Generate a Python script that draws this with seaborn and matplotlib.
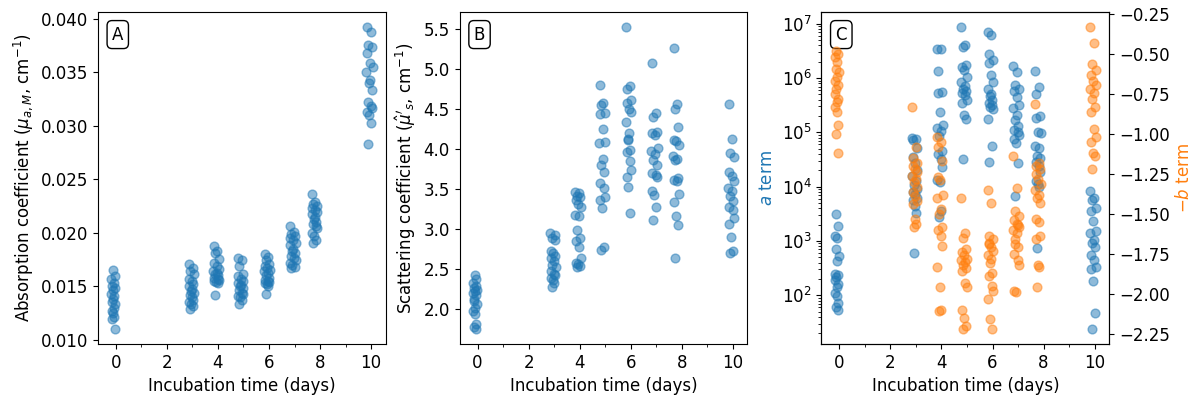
import numpy as np
import pandas as pd
import seaborn as sns
import matplotlib.pyplot as plt
from matplotlib.ticker import MultipleLocator

# Incubation times (days) of each measurement, one sub-list per sampling day
incubation_times = [
    [-0.12, -0.05, -0.18, -0.08, -0.15, -0.03, -0.10, -0.19, -0.06, -0.13, -0.16, -0.04, -0.09, -0.17, -0.11, -0.07, -0.14, -0.05],
    [2.85, 3.02, 2.90, 3.05, 2.88, 2.97, 3.04, 2.86, 3.00, 2.93, 3.06, 2.89, 2.98, 3.03, 2.87, 2.95, 3.01, 2.91],
    [3.83, 3.98, 3.88, 4.03, 3.85, 3.95, 4.05, 3.82, 3.97, 3.90, 4.02, 3.86, 3.99, 4.04, 3.84, 3.93, 4.00, 3.89],
    [4.78, 4.93, 4.83, 4.98, 4.80, 4.90, 5.00, 4.77, 4.92, 4.85, 4.97, 4.81, 4.94, 4.99, 4.79, 4.88, 4.95, 4.84],
    [5.83, 5.96, 5.87, 6.00, 5.85, 5.93, 6.02, 5.82, 5.95, 5.89, 5.99, 5.86, 5.97, 6.01, 5.84, 5.91, 5.98, 5.88],
    [6.82, 6.97, 6.87, 7.03, 6.84, 6.94, 7.05, 6.81, 6.96, 6.89, 7.01, 6.85, 6.98, 7.04, 6.83, 6.92, 7.00, 6.88],
    [7.68, 7.82, 7.72, 7.87, 7.70, 7.79, 7.89, 7.67, 7.81, 7.75, 7.86, 7.71, 7.83, 7.88, 7.69, 7.77, 7.84, 7.73],
    [9.83, 9.98, 9.88, 10.04, 9.85, 9.95, 10.06, 9.82, 9.97, 9.90, 10.02, 9.86, 9.99, 10.05, 9.84, 9.93, 10.01, 9.89],
]

# Absorption coefficient mu_a,M (cm^-1)
mua_values = [
    [0.0165, 0.0159, 0.0157, 0.0153, 0.0150, 0.0148, 0.0146, 0.0143, 0.0141, 0.0138, 0.0135, 0.0133, 0.0130, 0.0127, 0.0125, 0.0121, 0.0119, 0.0110],
    [0.0171, 0.0167, 0.0164, 0.0161, 0.0157, 0.0155, 0.0152, 0.0150, 0.0147, 0.0145, 0.0144, 0.0142, 0.0140, 0.0137, 0.0135, 0.0133, 0.0131, 0.0129],
    [0.0187, 0.0183, 0.0181, 0.0175, 0.0172, 0.0169, 0.0166, 0.0164, 0.0162, 0.0161, 0.0160, 0.0158, 0.0157, 0.0156, 0.0155, 0.0154, 0.0153, 0.0142],
    [0.0176, 0.0174, 0.0169, 0.0161, 0.0159, 0.0157, 0.0155, 0.0153, 0.0151, 0.0150, 0.0148, 0.0146, 0.0144, 0.0143, 0.0141, 0.0140, 0.0137, 0.0133],
    [0.0180, 0.0177, 0.0174, 0.0171, 0.0169, 0.0167, 0.0165, 0.0164, 0.0162, 0.0160, 0.0158, 0.0156, 0.0155, 0.0154, 0.0153, 0.0152, 0.0150, 0.0143],
    [0.0206, 0.0201, 0.0199, 0.0197, 0.0195, 0.0193, 0.0190, 0.0188, 0.0185, 0.0183, 0.0181, 0.0178, 0.0176, 0.0174, 0.0172, 0.0170, 0.0168, 0.0167],
    [0.0236, 0.0229, 0.0227, 0.0225, 0.0223, 0.0221, 0.0219, 0.0217, 0.0215, 0.0213, 0.0210, 0.0208, 0.0206, 0.0204, 0.0200, 0.0197, 0.0193, 0.0190],
    [0.0392, 0.0387, 0.0375, 0.0373, 0.0368, 0.0358, 0.0355, 0.0350, 0.0343, 0.0340, 0.0333, 0.0322, 0.0318, 0.0316, 0.0313, 0.0310, 0.0302, 0.0283],
]

# Reduced scattering coefficient mu_s' (cm^-1)
mus_values = [
    [2.43, 2.37, 2.33, 2.29, 2.26, 2.24, 2.22, 2.20, 2.17, 2.13, 2.10, 2.06, 2.01, 1.97, 1.94, 1.81, 1.77, 1.75],
    [2.95, 2.92, 2.89, 2.86, 2.72, 2.70, 2.66, 2.64, 2.60, 2.55, 2.52, 2.47, 2.44, 2.42, 2.39, 2.36, 2.33, 2.28],
    [3.47, 3.45, 3.42, 3.40, 3.36, 3.32, 3.28, 3.18, 3.17, 2.99, 2.89, 2.85, 2.78, 2.64, 2.57, 2.56, 2.54, 2.53],
    [4.81, 4.58, 4.55, 4.46, 4.44, 4.25, 4.09, 4.08, 3.88, 3.80, 3.72, 3.58, 3.52, 3.40, 3.36, 3.27, 2.78, 2.74],
    [5.53, 4.79, 4.75, 4.62, 4.58, 4.50, 4.47, 4.34, 4.20, 4.13, 3.99, 3.96, 3.85, 3.74, 3.65, 3.53, 3.20, 4.11],
    [5.08, 4.46, 4.40, 4.22, 4.20, 4.18, 4.02, 3.98, 3.94, 3.86, 3.80, 3.70, 3.68, 3.65, 3.48, 3.43, 3.28, 3.11],
    [5.27, 4.57, 4.50, 4.28, 4.11, 4.10, 4.05, 3.91, 3.88, 3.86, 3.64, 3.62, 3.60, 3.44, 3.34, 3.17, 3.05, 2.64],
    [4.57, 4.13, 3.95, 3.90, 3.71, 3.66, 3.60, 3.52, 3.48, 3.41, 3.35, 3.28, 3.24, 3.14, 3.07, 2.90, 2.72, 2.70],
]

# Power-law fit terms: a (log axis) and -b
a_values = [
    [3100, 1860, 1260, 1120, 710, 525, 430, 250, 235, 215, 190, 160, 140, 112, 95, 72, 60, 54],
    [79000, 76000, 71000, 52000, 35000, 27000, 20000, 16000, 12600, 10700, 8900, 7900, 7200, 6300, 5600, 4500, 3300, 600],
    [3.47e6, 3.39e6, 1.38e6, 5.6e5, 5.4e5, 2.4e5, 1.35e5, 1.2e5, 1.05e5, 8.5e4, 4.5e4, 4.0e4, 3.2e4, 2.3e4, 1.3e4, 1.23e4, 3.5e3, 2.8e3],
    [8.7e6, 4.0e6, 3.8e6, 1.74e6, 1.62e6, 1.41e6, 1.05e6, 8.3e5, 7.1e5, 6.3e5, 5.8e5, 5.4e5, 4.8e5, 4.0e5, 3.5e5, 2.1e5, 1.8e5, 3.2e4],
    [7.1e6, 6.3e6, 2.8e6, 2.2e6, 1.86e6, 1.12e6, 8.5e5, 6.3e5, 5.2e5, 4.6e5, 4.0e5, 3.5e5, 3.2e5, 2.75e5, 1.8e5, 2.9e5, 5.5e4, 2.9e4],
    [1.7e6, 1.29e6, 7.4e5, 6.3e5, 5.8e5, 4.5e5, 3.2e5, 2.8e5, 2.1e5, 1.7e5, 1.32e5, 1.12e5, 1.0e5, 8.9e4, 7.6e4, 6.3e4, 2.7e4, 6.6e3],
    [1.38e6, 6.9e5, 5.2e5, 2.0e5, 1.85e5, 1.02e5, 9.8e4, 5.5e4, 5.2e4, 3.6e4, 3.4e4, 2.8e4, 2.4e4, 1.9e4, 1.26e4, 1.1e4, 1.0e4, 750],
    [8500, 6300, 5800, 4000, 3500, 2300, 1500, 1380, 1050, 930, 790, 560, 450, 330, 300, 180, 48, 24],
]

b_values = [
    [-0.48, -0.50, -0.52, -0.55, -0.59, -0.61, -0.64, -0.67, -0.69, -0.72, -0.75, -0.78, -0.80, -0.83, -0.86, -0.94, -1.00, -1.12],
    [-0.83, -1.08, -1.15, -1.18, -1.20, -1.22, -1.24, -1.26, -1.28, -1.30, -1.33, -1.36, -1.39, -1.42, -1.44, -1.53, -1.56, -1.58],
    [-1.02, -1.05, -1.08, -1.17, -1.27, -1.29, -1.38, -1.40, -1.47, -1.50, -1.58, -1.60, -1.64, -1.70, -1.83, -1.96, -2.10, -2.11],
    [-1.40, -1.62, -1.65, -1.72, -1.74, -1.76, -1.78, -1.79, -1.80, -1.82, -1.84, -1.86, -1.93, -1.96, -2.10, -2.15, -2.20, -2.22],
    [-1.35, -1.43, -1.64, -1.66, -1.69, -1.71, -1.73, -1.76, -1.78, -1.81, -1.87, -1.89, -1.95, -1.98, -2.03, -2.16, -2.22, -1.68],
    [-1.14, -1.34, -1.48, -1.51, -1.54, -1.56, -1.58, -1.60, -1.62, -1.66, -1.71, -1.75, -1.79, -1.82, -1.98, -1.99, -1.57, -1.69],
    [-0.81, -1.18, -1.20, -1.22, -1.25, -1.28, -1.31, -1.35, -1.38, -1.40, -1.43, -1.53, -1.55, -1.64, -1.66, -1.82, -1.83, -1.96],
    [-0.33, -0.43, -0.56, -0.60, -0.63, -0.67, -0.69, -0.72, -0.74, -0.78, -0.83, -0.86, -0.97, -1.02, -1.05, -1.12, -1.14, -1.22],
]

# Flatten the per-day lists into one long table
df = pd.DataFrame({
    "time": np.concatenate(incubation_times),
    "mua": np.concatenate(mua_values),
    "mus": np.concatenate(mus_values),
    "a": np.concatenate(a_values),
    "b": np.concatenate(b_values),
})

plt.rcParams["font.size"] = 12

point_kws = dict(s=40, alpha=0.5, linewidth=1.0)

fig, axes = plt.subplots(1, 3, figsize=(11.94, 4), dpi=100)
fig.subplots_adjust(left=0.082, right=0.929, top=0.97, bottom=0.14, wspace=0.257)

ax_a, ax_b, ax_c = axes
sns.scatterplot(data=df, x="time", y="mua", ax=ax_a, color="C0", edgecolor="C0", **point_kws)
ax_a.set_ylabel(r"Absorption coefficient ($\mu_{a,M}$, cm$^{-1}$)")

sns.scatterplot(data=df, x="time", y="mus", ax=ax_b, color="C0", edgecolor="C0", **point_kws)
ax_b.set_ylabel(r"Scattering coefficient ($\hat{\mu}'_s$, cm$^{-1}$)")

sns.scatterplot(data=df, x="time", y="a", ax=ax_c, color="C0", edgecolor="C0", **point_kws)
ax_c.set_yscale("log")
ax_c.set_ylabel(r"$a$ term", color="C0")

ax_c2 = ax_c.twinx()
sns.scatterplot(data=df, x="time", y="b", ax=ax_c2, color="C1", edgecolor="C1", **point_kws)
ax_c2.set_ylabel(r"$-b$ term", color="C1")

for ax, letter in zip(axes, ["A", "B", "C"]):
    ax.set_xlabel("Incubation time (days)")
    ax.xaxis.set_minor_locator(MultipleLocator(1))
    ax.set_xticks([0, 2, 4, 6, 8, 10])
    ax.text(0.069, 0.932, letter, transform=ax.transAxes, fontsize=12,
            ha="center", va="center",
            bbox=dict(boxstyle="round,pad=0.3", facecolor="white", edgecolor="black"))

fig.savefig("out.png", dpi=100)
